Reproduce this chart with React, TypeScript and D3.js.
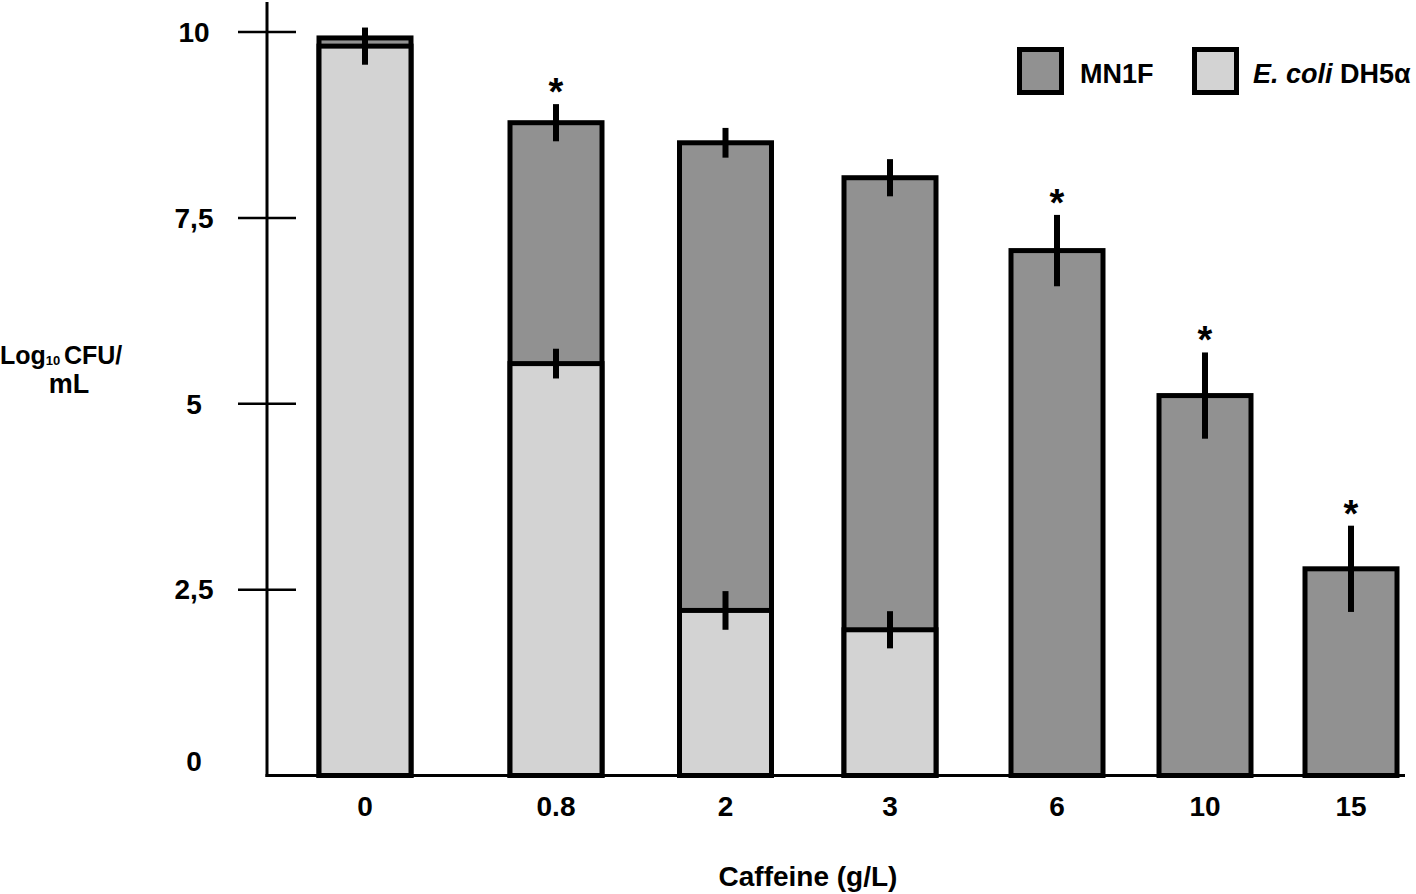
import React, { useEffect, useRef } from 'react';
import * as d3 from 'd3';

// caffeine concentrations (g/L)
const categories = ['0', '0.8', '2', '3', '6', '10', '15'];
// MN1F log10 CFU/mL and SD
const mn1fValues = [9.92, 8.78, 8.51, 8.04, 7.06, 5.11, 2.78];
const mn1fErrors = [null, 0.25, 0.2, 0.25, 0.48, 0.58, 0.58];
// E. coli DH5a log10 CFU/mL and SD
const ecoliValues = [9.81, 5.54, 2.22, 1.96, null, null, null];
const ecoliErrors = [0.25, 0.2, 0.26, 0.25, null, null, null];
// significance marks
const significant = [false, true, false, false, true, true, true];
const yTicks = [0, 2.5, 5, 7.5, 10];
const yTickLabels = ['0', '2,5', '5', '7,5', '10'];

const DARK = '#919191';
const LIGHT = '#d3d3d3';
const FONT = '"Liberation Sans", Arial, sans-serif';

const Chart = () => {
  const ref = useRef<SVGSVGElement | null>(null);

  useEffect(() => {
    if (!ref.current) return;
    const svg = d3.select(ref.current);
    svg.selectAll('*').remove();

    const axisX = 267;
    const y = d3.scaleLinear().domain([0, 10]).range([775.5, 32]);
    // bars are not evenly spaced in the original figure
    const x = d3.scaleOrdinal<string, number>()
      .domain(categories)
      .range([365, 556, 725.5, 890, 1057, 1205, 1351]);
    const barW = 92;

    const g = svg.append('g');

    const drawBars = (vals, fill) => {
      g.selectAll(null)
        .data(categories.map((c, i) => ({ c, v: vals[i] })).filter((d) => d.v != null))
        .enter().append('rect')
        .attr('x', (d) => x(d.c) - barW / 2)
        .attr('width', barW)
        .attr('y', (d) => y(d.v))
        .attr('height', (d) => y(0) - y(d.v))
        .attr('fill', fill)
        .attr('stroke', '#000')
        .attr('stroke-width', 5);
    };
    drawBars(mn1fValues, DARK);
    drawBars(ecoliValues, LIGHT);

    const errs = [];
    categories.forEach((c, i) => {
      if (mn1fErrors[i] != null) errs.push({ c, v: mn1fValues[i], e: mn1fErrors[i] });
      if (ecoliErrors[i] != null) errs.push({ c, v: ecoliValues[i], e: ecoliErrors[i] });
    });
    g.selectAll(null).data(errs).enter().append('line')
      .attr('x1', (d) => x(d.c)).attr('x2', (d) => x(d.c))
      .attr('y1', (d) => y(d.v + d.e)).attr('y2', (d) => y(d.v - d.e))
      .attr('stroke', '#000').attr('stroke-width', 6);

    // asterisks
    g.selectAll(null)
      .data(categories.map((c, i) => ({ c, i })).filter((d) => significant[d.i]))
      .enter().append('text')
      .attr('x', (d) => x(d.c))
      .attr('y', (d) => y(mn1fValues[d.i] + (mn1fErrors[d.i] || 0)) + 1)
      .attr('text-anchor', 'middle')
      .attr('font-family', FONT).attr('font-weight', 'bold').attr('font-size', 38)
      .text('*');

    // axes
    g.append('line').attr('x1', axisX).attr('x2', axisX).attr('y1', 2).attr('y2', y(0) + 1.5)
      .attr('stroke', '#000').attr('stroke-width', 3);
    g.append('line').attr('x1', axisX - 1.5).attr('x2', 1405).attr('y1', y(0)).attr('y2', y(0))
      .attr('stroke', '#000').attr('stroke-width', 3);

    g.selectAll(null).data(yTicks.filter((t) => t > 0)).enter().append('line')
      .attr('x1', 238).attr('x2', 296)
      .attr('y1', (d) => y(d)).attr('y2', (d) => y(d))
      .attr('stroke', '#000').attr('stroke-width', 2.5);

    g.selectAll(null).data(yTicks).enter().append('text')
      .attr('x', 194)
      .attr('y', (d) => (d === 0 ? y(d) - 14 : y(d)))
      .attr('dy', '0.35em')
      .attr('text-anchor', 'middle')
      .attr('font-family', FONT).attr('font-weight', 'bold').attr('font-size', 28)
      .text((d, i) => yTickLabels[i]);

    g.selectAll(null).data(categories).enter().append('text')
      .attr('x', (d) => x(d))
      .attr('y', 806)
      .attr('dy', '0.35em')
      .attr('text-anchor', 'middle')
      .attr('font-family', FONT).attr('font-weight', 'bold').attr('font-size', 28)
      .text((d) => d);

    g.append('text')
      .attr('x', 808).attr('y', 886)
      .attr('text-anchor', 'middle')
      .attr('font-family', FONT).attr('font-weight', 'bold').attr('font-size', 28)
      .text('Caffeine (g/L)');

    const yl = g.append('text')
      .attr('font-family', FONT).attr('font-weight', 'bold').attr('font-size', 25);
    yl.append('tspan').attr('x', 0).attr('y', 364).text('Log');
    yl.append('tspan').attr('font-size', 13).attr('dy', 1).text('10 ');
    yl.append('tspan').attr('dy', -1).text('CFU/');
    g.append('text')
      .attr('x', 69).attr('y', 393)
      .attr('text-anchor', 'middle')
      .attr('font-family', FONT).attr('font-weight', 'bold').attr('font-size', 27)
      .text('mL');

    // legend
    const legend = [
      { fill: DARK, x: 1019.5 },
      { fill: LIGHT, x: 1194.5 },
    ];
    g.selectAll(null).data(legend).enter().append('rect')
      .attr('x', (d) => d.x).attr('y', 49.5)
      .attr('width', 42).attr('height', 43)
      .attr('fill', (d) => d.fill)
      .attr('stroke', '#000').attr('stroke-width', 5);
    g.append('text')
      .attr('x', 1080).attr('y', 83)
      .attr('font-family', FONT).attr('font-weight', 'bold').attr('font-size', 27)
      .text('MN1F');
    const el = g.append('text')
      .attr('x', 1253).attr('y', 83)
      .attr('font-family', FONT).attr('font-weight', 'bold').attr('font-size', 27);
    el.append('tspan').attr('font-style', 'italic').text('E. coli');
    el.append('tspan').text(' DH5α');
  }, []);

  return (
    <svg
      ref={ref}
      width={1416}
      height={894}
      style={{ position: 'absolute', left: 0, top: 0, background: '#fff' }}
    />
  );
};

export default function App() {
  return <Chart />;
}
